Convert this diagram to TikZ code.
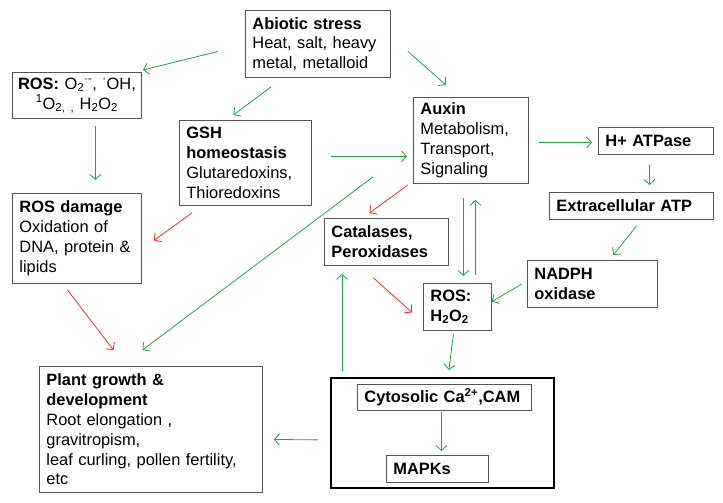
\documentclass[tikz,border=0pt]{standalone}
\usepackage{fontspec}
\setmainfont{Liberation Sans}
\usepackage{tikz}
\usetikzlibrary{arrows.meta}
\definecolor{arrgreen}{RGB}{40,160,75}
\definecolor{arrred}{RGB}{230,50,50}
\definecolor{boxline}{RGB}{85,85,85}
\newcommand{\boxfont}{\fontsize{16.4}{19.8}\selectfont}

\begin{document}
\begin{tikzpicture}[x=1pt,y=-1pt,
    box/.style={draw=boxline, line width=0.9pt, anchor=north west, inner xsep=7pt, inner ysep=0pt, align=left, font=\boxfont},
    garr/.style={draw=arrgreen, line width=0.8pt, -{Straight Barb[length=5pt,width=11pt]}},
    rarr/.style={garr, draw=arrred}]
    \useasboundingbox[fill=white] (0,0) rectangle (723,503);
    \node[box, minimum width=145pt, minimum height=67pt, text width=131pt] (abiotic) at (245,10) {\textbf{Abiotic stress}\\Heat, salt, heavy\\metal, metalloid};
    \node[box, minimum width=129pt, minimum height=46pt, inner xsep=1pt, text width=127pt, align=center] (ros) at (12,72) {\textbf{ROS:} O\textsubscript{2}\textsuperscript{·-}, \textsuperscript{·}OH,\\\textsuperscript{1}O\textsubscript{2, ,} H\textsubscript{2}O\textsubscript{2}};
    \node[box, minimum width=132pt, minimum height=85pt, text width=118pt] (gsh) at (179,120) {\textbf{GSH}\\\textbf{homeostasis}\\Glutaredoxins,\\Thioredoxins};
    \node[box, minimum width=115pt, minimum height=86pt, text width=101pt] (auxin) at (413,97) {\textbf{Auxin}\\Metabolism,\\Transport,\\Signaling};
    \node[box, minimum width=115pt, minimum height=27pt, text width=101pt] (hatp) at (598,127) {\textbf{H+ ATPase}};
    \node[box, minimum width=164pt, minimum height=27pt, text width=150pt] (extra) at (549,192) {\textbf{Extracellular ATP}};
    \node[box, minimum width=129pt, minimum height=90pt, text width=115pt] (rosdmg) at (12,193) {\textbf{ROS damage}\\Oxidation of\\DNA, protein \&\\lipids};
    \node[box, minimum width=124pt, minimum height=47pt, text width=110pt] (catal) at (324,218) {\textbf{Catalases,}\\\textbf{Peroxidases}};
    \node[box, minimum width=130pt, minimum height=47pt, text width=116pt] (nadph) at (527,260) {\textbf{NADPH}\\\textbf{oxidase}};
    \node[box, minimum width=68pt, minimum height=47pt, text width=54pt] (hperox) at (423,283) {\textbf{ROS:}\\\textbf{H\textsubscript{2}O\textsubscript{2}}};
    \node[draw=black, line width=1.8pt, anchor=north west, minimum width=223pt, minimum height=110pt, inner sep=0pt] (signal) at (330,377) {};
    \node[box, minimum width=174pt, minimum height=26pt, text width=160pt] (cyto) at (357,384) {\textbf{Cytosolic Ca\textsuperscript{2+},CAM}};
    \node[box, minimum width=102pt, minimum height=27pt, text width=88pt] (mapk) at (386,455) {\textbf{MAPKs}};
    \node[box, minimum width=223pt, minimum height=126pt, text width=209pt] (plant) at (39,366) {\textbf{Plant growth \&}\\\textbf{development}\\Root elongation ,\\gravitropism,\\leaf curling, pollen fertility,\\etc};

    \draw[garr] ([shift={(-27,7.5)}]abiotic.west) -- ([shift={(1,-2)}]ros.north east);
    \draw[garr] ([shift={(26,9)}]abiotic.south west) -- ([shift={(-12,-5)}]gsh.north);
    \draw[garr] ([shift={(17,7.5)}]abiotic.east) -- ([shift={(33,-12)}]auxin.north west);
    \draw[garr] ([shift={(18.5,7)}]ros.south) -- ([shift={(18.5,-13)}]rosdmg.north);
    \draw[garr] ([shift={(19,-6.5)}]gsh.east) -- ([shift={(-6,16)}]auxin.west);
    \draw[rarr] ([shift={(13,7)}]gsh.south west) -- ([shift={(12,2)}]rosdmg.east);
    \draw[rarr] ([shift={(-5,1)}]auxin.south west) -- ([shift={(-17,-5)}]catal.north);
    \draw[garr] ([shift={(-40,-7)}]auxin.south west) -- ([shift={(-8.5,-16)}]plant.north);
    \draw[garr] ([shift={(-7.5,14)}]auxin.south) -- ([shift={(6,-7)}]hperox.north);
    \draw[garr] ([shift={(18,-8)}]hperox.north) -- ([shift={(4.5,16)}]auxin.south);
    \draw[garr] ([shift={(10,2)}]auxin.east) -- ([shift={(-6,1.5)}]hatp.west);
    \draw[garr] ([shift={(-6.5,10)}]hatp.south) -- ([shift={(18,-7)}]extra.north);
    \draw[garr] ([shift={(5,6)}]extra.south) -- ([shift={(21,-5)}]nadph.north);
    \draw[garr] ([shift={(-5,0)}]nadph.west) -- ([shift={(0,-5.5)}]hperox.east);
    \draw[rarr] ([shift={(-13,12)}]catal.south) -- ([shift={(-11,5.5)}]hperox.west);
    \draw[garr] ([shift={(-4,3)}]hperox.south) -- ([shift={(6.5,-7)}]signal.north);
    \draw[garr] ([shift={(12,-6)}]signal.north west) -- ([shift={(18,8)}]catal.south west);
    \draw[garr] ([shift={(-12,7)}]signal.west) -- ([shift={(11,10)}]plant.east);
    \draw[rarr] ([shift={(-9.5,6)}]rosdmg.south) -- ([shift={(-37.5,-16)}]plant.north);
    \draw[garr] ([shift={(-3,1)}]cyto.south) -- ([shift={(4,-4)}]mapk.north);
\end{tikzpicture}
\end{document}
